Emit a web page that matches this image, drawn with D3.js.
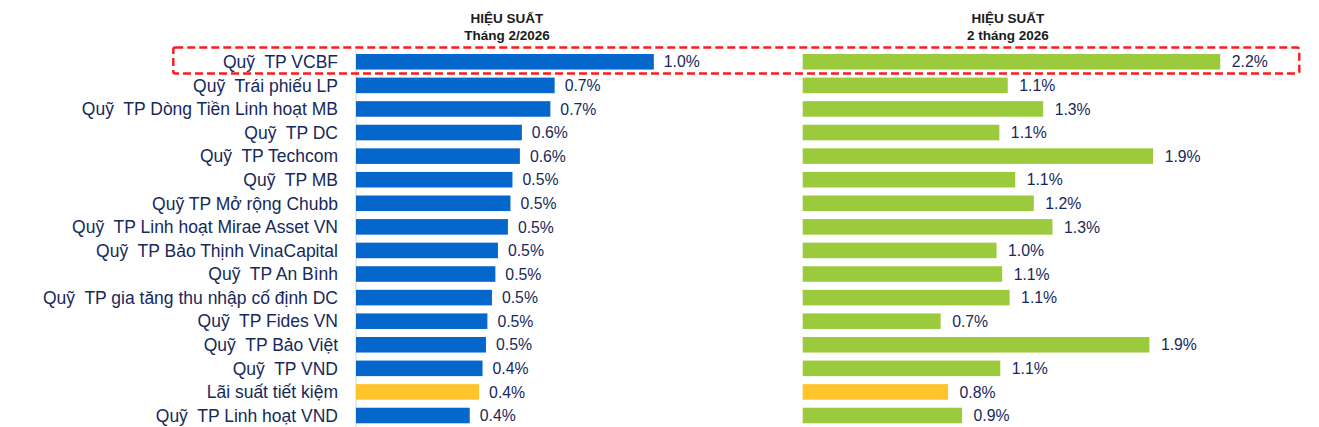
<!DOCTYPE html>
<html><head><meta charset="utf-8">
<script src="https://cdn.jsdelivr.net/npm/d3@7"></script>
<style>
body{margin:0;background:#fff}
svg{display:block}
text{font-family:"Liberation Sans",Arial,sans-serif;white-space:pre}
</style>
</head><body>
<svg id="c" width="1319" height="427"></svg>
<script>
const categories = [
  "Quỹ  TP VCBF","Quỹ  Trái phiếu LP","Quỹ  TP Dòng Tiền Linh hoạt MB","Quỹ  TP DC",
  "Quỹ  TP Techcom","Quỹ  TP MB","Quỹ TP Mở rộng Chubb","Quỹ  TP Linh hoạt Mirae Asset VN",
  "Quỹ  TP Bảo Thịnh VinaCapital","Quỹ  TP An Bình","Quỹ  TP gia tăng thu nhập cố định DC",
  "Quỹ  TP Fides VN","Quỹ  TP Bảo Việt","Quỹ  TP VND","Lãi suất tiết kiệm","Quỹ  TP Linh hoạt VND"
];
// Hiệu suất tháng 2/2026 (%)
const monthValues = [1.045,0.697,0.682,0.582,0.575,0.549,0.542,0.533,0.498,0.489,0.477,0.461,0.456,0.444,0.432,0.399];
// Hiệu suất 2 tháng 2026 (%)
const ytdValues = [2.24,1.10,1.29,1.055,1.88,1.14,1.24,1.34,1.04,1.07,1.11,0.74,1.86,1.06,0.78,0.855];
const headerLeft = ["HIỆU SUẤT","Tháng 2/2026"];
const headerRight = ["HIỆU SUẤT","2 tháng 2026"];
const benchmark = "Lãi suất tiết kiệm";
const highlighted = "Quỹ  TP VCBF";

const svg = d3.select("#c");
const textColor = "#16295a";
const fmt = v => d3.format(".1f")(v) + "%";

const y = d3.scaleBand().domain(categories).range([50, 427.3]).paddingInner(0.34).paddingOuter(0.17);
const xL = d3.scaleLinear().domain([0, 1.2]).range([356, 356 + 1.2 * 285]);
const xR = d3.scaleLinear().domain([0, 2.4]).range([802.7, 802.7 + 2.4 * 186.4]);

// axis line left panel
svg.append("line").attr("x1", xL(0)).attr("x2", xL(0)).attr("y1", 50).attr("y2", 427)
  .attr("stroke", "#d9d9d9").attr("stroke-width", 1.2);

function panel(x, values, color, gap) {
  const g = svg.append("g");
  g.selectAll("rect").data(categories).join("rect")
    .attr("x", x(0))
    .attr("y", d => y(d))
    .attr("width", (d, i) => x(values[i]) - x(0))
    .attr("height", y.bandwidth())
    .attr("fill", d => d === benchmark ? "#ffc42b" : color);
  g.selectAll("text").data(categories).join("text")
    .attr("x", (d, i) => x(values[i]) + gap)
    .attr("y", d => y(d) + y.bandwidth() / 2)
    .attr("dy", "0.36em")
    .attr("font-size", 15.8)
    .attr("fill", textColor)
    .text((d, i) => fmt(values[i]));
}
panel(xL, monthValues, "#0566cc", 10);
panel(xR, ytdValues, "#9bcb3c", 11.5);

// category labels
svg.append("g").selectAll("text").data(categories).join("text")
  .attr("x", 338)
  .attr("y", d => y(d) + y.bandwidth() / 2)
  .attr("dy", "0.36em")
  .attr("text-anchor", "end")
  .attr("font-size", 17.5)
  .attr("fill", textColor)
  .text(d => d);

// headers
function header(cx, lines) {
  svg.append("g").selectAll("text").data(lines).join("text")
    .attr("x", cx).attr("y", (d, i) => 23 + i * 17)
    .attr("text-anchor", "middle")
    .attr("font-size", 13.5).attr("font-weight", "bold")
    .attr("fill", "#1a1a1a")
    .text(d => d);
}
header(507, headerLeft);
header(1008, headerRight);

// highlight box
svg.append("rect")
  .attr("x", 173.3).attr("y", y(highlighted) - 6.5)
  .attr("width", 1299.3 - 173.3).attr("height", y.bandwidth() + 10.5)
  .attr("fill", "none").attr("stroke", "#ff1a1a").attr("stroke-width", 2.4)
  .attr("stroke-dasharray", "8,4").attr("rx", 2);
</script>
</body></html>
